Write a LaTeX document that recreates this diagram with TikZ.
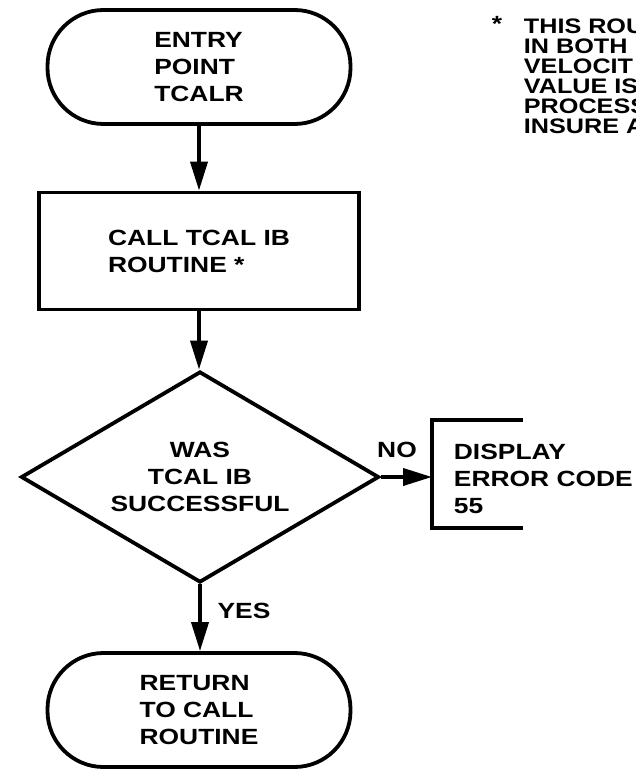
\documentclass[tikz,border=0pt]{standalone}
\usepackage{fontspec}
\newfontfamily\dfont{Liberation Sans Bold}[FakeStretch=1.2]
\usetikzlibrary{shapes.geometric,arrows.meta}
\begin{document}
\begin{tikzpicture}[x=1pt,y=-1pt, line width=3.8pt,
  txt/.style={font=\dfont\fontsize{22}{27}\selectfont},
  term/.style={draw, rounded corners=56pt, minimum width=303pt, minimum height=114pt, align=left, txt},
  proc/.style={draw, minimum width=320pt, minimum height=117pt, align=left, txt},
  dec/.style={draw, diamond, aspect=1.7, minimum width=358pt, minimum height=211pt, inner sep=0pt, align=center, txt},
  flow/.style={-{Triangle[length=29pt,width=17pt]}},
  lab/.style={txt, inner sep=0pt}]
\useasboundingbox (0,0) rectangle (635,770);
\node[term] (entry) at (199,67) {ENTRY\\POINT\\TCALR};
\node[proc] (call) at (199,251) {CALL TCAL IB\\ROUTINE *};
\node[dec] (dec) at (200,477) {WAS\\TCAL IB\\SUCCESSFUL};
\node[term] (ret) at (199,710) {RETURN\\TO CALL\\ROUTINE};
\draw[flow] (entry.south) -- (call.north);
\draw[flow] (call.south) -- (call.south |- dec.north);
\draw[flow] (dec.south) -- (dec.south |- ret.north);
\coordinate (bin) at (432,477);
\coordinate (btop) at (523,420);
\coordinate (bbot) at (523,528);
\draw (btop) -- (btop -| bin) -- (bbot -| bin) -- (bbot);
\draw[flow] (dec.east) -- (dec.east -| bin);
\node[lab] (no) at (397,450) {NO};
\node[lab] (yes) at (244,611) {YES};
\node[lab, anchor=west, align=left] (disp) at (452,479) {DISPLAY\\ERROR CODE\\55};
\node[lab, anchor=base west] (star) at (490,32) {*};
\node[lab, anchor=north west, align=left, font=\dfont\fontsize{21}{20}\selectfont] (note) at (522,16.5)
  {THIS ROU\\IN BOTH\\VELOCIT\\VALUE IS\\PROCESS\\INSURE A};
\end{tikzpicture}
\end{document}
